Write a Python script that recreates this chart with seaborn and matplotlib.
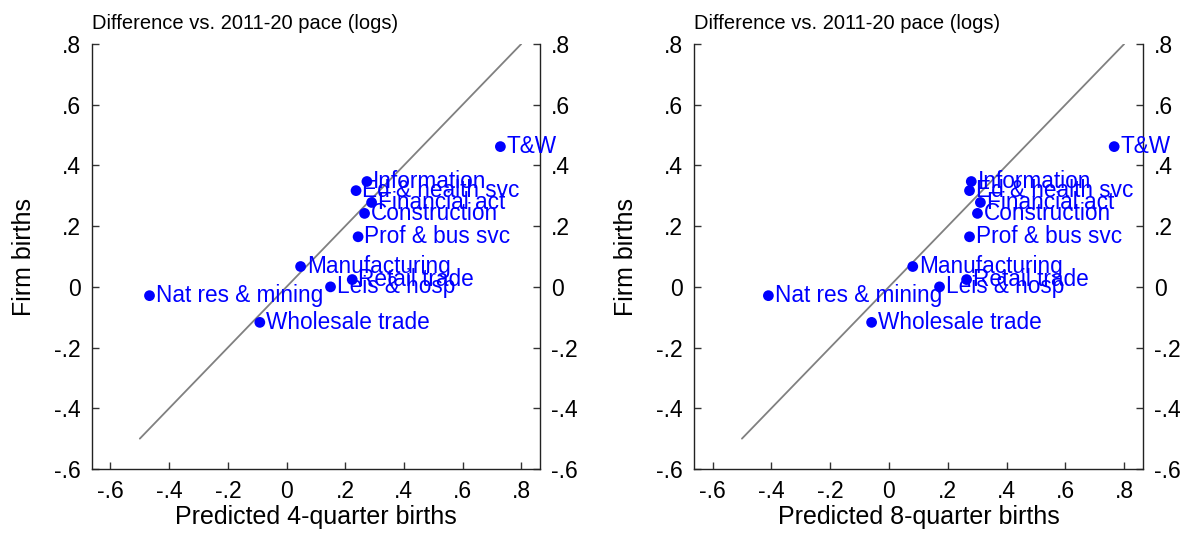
import matplotlib
matplotlib.use('Agg')
import matplotlib.pyplot as plt
import seaborn as sns
import pandas as pd

# values
industries = ['T&W', 'Information', 'Ed & health svc', 'Financial act', 'Construction',
              'Prof & bus svc', 'Manufacturing', 'Retail trade', 'Leis & hosp',
              'Nat res & mining', 'Wholesale trade']
pred_4q = [0.729, 0.274, 0.237, 0.290, 0.266, 0.244, 0.048, 0.224, 0.150, -0.467, -0.091]
pred_8q = [0.766, 0.280, 0.274, 0.311, 0.301, 0.274, 0.081, 0.264, 0.172, -0.410, -0.059]
firm_births = [0.462, 0.347, 0.317, 0.278, 0.242, 0.165, 0.067, 0.024, 0.000, -0.029, -0.117]

diag = [-0.5, 0.8]
tick_vals = [-0.6, -0.4, -0.2, 0, 0.2, 0.4, 0.6, 0.8]
tick_labels = ['-.6', '-.4', '-.2', '0', '.2', '.4', '.6', '.8']
panel_title = 'Difference vs. 2011-20 pace (logs)'
x_titles = ['Predicted 4-quarter births', 'Predicted 8-quarter births']

sns.set_theme(style='white')
plt.rcParams['font.family'] = ['Liberation Sans', 'DejaVu Sans']
plt.rcParams['text.color'] = 'black'
plt.rcParams['axes.labelcolor'] = 'black'
plt.rcParams['xtick.color'] = 'black'
plt.rcParams['ytick.color'] = 'black'

df = pd.DataFrame({'industry': industries, 'pred_4q': pred_4q,
                   'pred_8q': pred_8q, 'firm_births': firm_births})

fig = plt.figure(figsize=(11.91, 5.37), dpi=100)
W, H = 1191, 537
ax1 = fig.add_axes([92 / W, 1 - 469 / H, 448 / W, 425 / H])
ax2 = fig.add_axes([694 / W, 1 - 469 / H, 449 / W, 425 / H])

for ax, xcol, xtitle in zip([ax1, ax2], ['pred_4q', 'pred_8q'], x_titles):
    sns.lineplot(x=diag, y=diag, ax=ax, color='#808080', linewidth=1.3)
    sns.scatterplot(data=df, x=xcol, y='firm_births', ax=ax, color='#0000ff',
                    s=60, edgecolor='none', zorder=3)
    for _, r in df.iterrows():
        ax.annotate(r['industry'], (r[xcol], r['firm_births']), xytext=(4.5, 0),
                    textcoords='offset points', va='center', ha='left',
                    color='#0000ff', fontsize=16.3)

    ax.set_xlim(-0.663, 0.864)
    ax.set_ylim(-0.6, 0.8)
    ax.set_xticks(tick_vals, tick_labels)
    ax.set_yticks(tick_vals, tick_labels)
    ax.tick_params(axis='both', direction='in', length=5, width=1, color='#333333',
                   labelsize=16.5, pad=8, right=True, labelright=True, left=True, bottom=True)
    ax.spines['top'].set_visible(False)
    for s in ['left', 'right', 'bottom']:
        ax.spines[s].set_color('#222222')
        ax.spines[s].set_linewidth(1)

    ax.set_xlabel(xtitle, fontsize=18)
    ax.set_ylabel('Firm births', fontsize=18)
    ax.xaxis.set_label_coords(0.5, -0.085)
    ax.yaxis.set_label_coords(-0.125, 0.5)
    ax.set_title(panel_title, loc='left', fontsize=14.5, pad=11)

plt.savefig('out.png', dpi=100)
plt.close()
